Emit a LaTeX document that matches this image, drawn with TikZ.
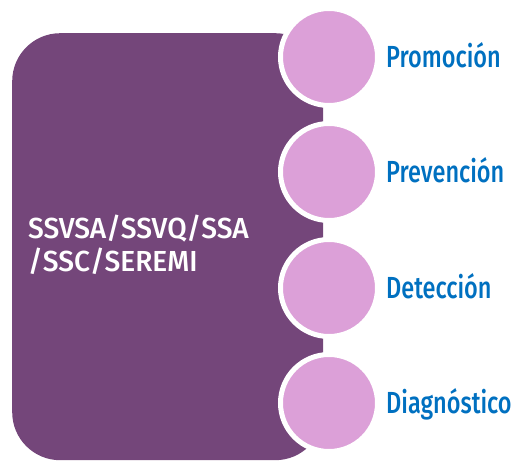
\documentclass[tikz,border=0pt]{standalone}
\usepackage{fontspec}
\setmainfont{Fira Sans}
\newfontfamily\stagefont{Fira Sans Medium}[FakeStretch=0.77]
\newfontfamily\orgfont{Fira Sans Medium}[FakeStretch=0.97]
\definecolor{orgpurple}{RGB}{116, 70, 122}
\definecolor{stageplum}{RGB}{220, 160, 216}
\definecolor{labelblue}{RGB}{0, 112, 192}
\usetikzlibrary{positioning}

\begin{document}
\begin{tikzpicture}[x=1pt, y=-1pt,
  stage/.style={circle, fill=stageplum, draw=white, line width=5pt, minimum size=97pt, inner sep=0pt},
  stagelabel/.style={font=\stagefont\fontsize{30.5}{33}\selectfont, text=labelblue, inner sep=0pt,
                     text height=21pt, text depth=0pt},
]
\useasboundingbox (0,0) rectangle (520,462);

% Organisation block
\node[fill=orgpurple, rounded corners=48pt, minimum width=311pt, minimum height=427pt,
      inner sep=0pt, anchor=north west] (org) at (12,33) {};
\node[anchor=base west, text=white, align=left, inner sep=0pt,
      font=\orgfont\fontsize{29}{33.3}\selectfont] (orgname) at (28,271.7)
{SSVSA/SSVQ/SSA\\/SSC/SEREMI};

% Stages
\node[stage] (prom) at (329,57) {};
\node[stagelabel, right=6pt of prom] (promlabel) {Promoción};

\node[stage] (prev) at (329,172) {};
\node[stagelabel, right=6pt of prev] (prevlabel) {Prevención};

\node[stage] (det) at (329,288) {};
\node[stagelabel, right=6pt of det] (detlabel) {Detección};

\node[stage] (diag) at (329,403) {};
\node[stagelabel, right=6pt of diag] (diaglabel) {Diagnóstico};
\end{tikzpicture}
\end{document}
